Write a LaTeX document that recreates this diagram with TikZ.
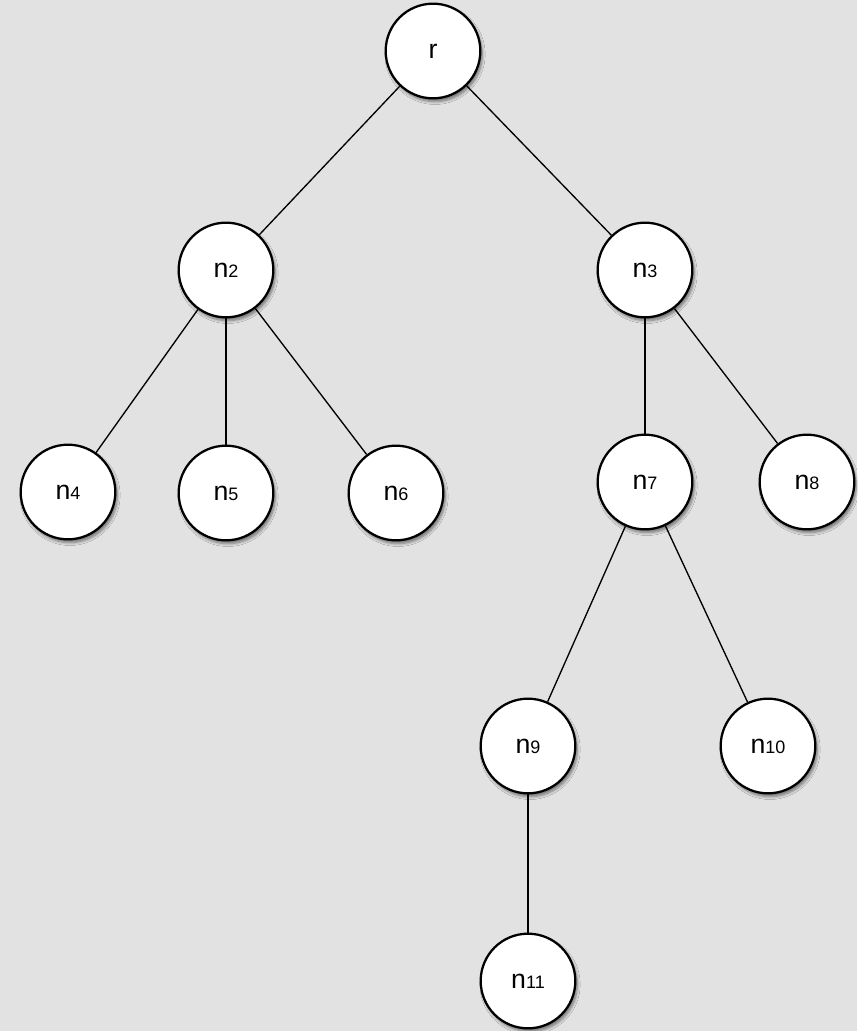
\documentclass[tikz,border=0pt]{standalone}
\usepackage{fontspec}
\setmainfont{Liberation Sans}
\usepackage{tikz}
\usetikzlibrary{shadows.blur}
\definecolor{paper}{RGB}{226,226,226}
\newcommand{\nlbl}[1]{n{\fontsize{13.5}{13.5}\selectfont #1}}
\tikzset{
  treenode/.style={circle, draw=black, fill=white, line width=1.7pt,
    minimum size=71pt, inner sep=0pt, font=\fontsize{20}{20}\selectfont,
    blur shadow={shadow xshift=1.5pt, shadow yshift=-2.5pt, shadow blur steps=6, shadow opacity=50}},
  edge/.style={line width=1pt, color=black}
}

\begin{document}
\begin{tikzpicture}[x=0.75pt, y=-0.75pt]
  \fill[paper] (0,0) rectangle (857,1031);
  \useasboundingbox (0,0) rectangle (857,1031);

  \node[treenode] (r) at (433,51) {r};
  \node[treenode] (n2) at (226,270) {\nlbl{2}};
  \node[treenode] (n3) at (645,270) {\nlbl{3}};
  \node[treenode] (n4) at (68,492) {\nlbl{4}};
  \node[treenode] (n5) at (226,493) {\nlbl{5}};
  \node[treenode] (n6) at (396,493) {\nlbl{6}};
  \node[treenode] (n7) at (645,482) {\nlbl{7}};
  \node[treenode] (n8) at (807,482) {\nlbl{8}};
  \node[treenode] (n9) at (528,746) {\nlbl{9}};
  \node[treenode] (n10) at (768,746) {\nlbl{10}};
  \node[treenode] (n11) at (528,981) {\nlbl{11}};

  \draw[edge] (r) -- (n2);
  \draw[edge] (r) -- (n3);
  \draw[edge] (n2) -- (n4);
  \draw[edge] (n2) -- (n5);
  \draw[edge] (n2) -- (n6);
  \draw[edge] (n3) -- (n7);
  \draw[edge] (n3) -- (n8);
  \draw[edge] (n7) -- (n9);
  \draw[edge] (n7) -- (n10);
  \draw[edge] (n9) -- (n11);
\end{tikzpicture}
\end{document}
